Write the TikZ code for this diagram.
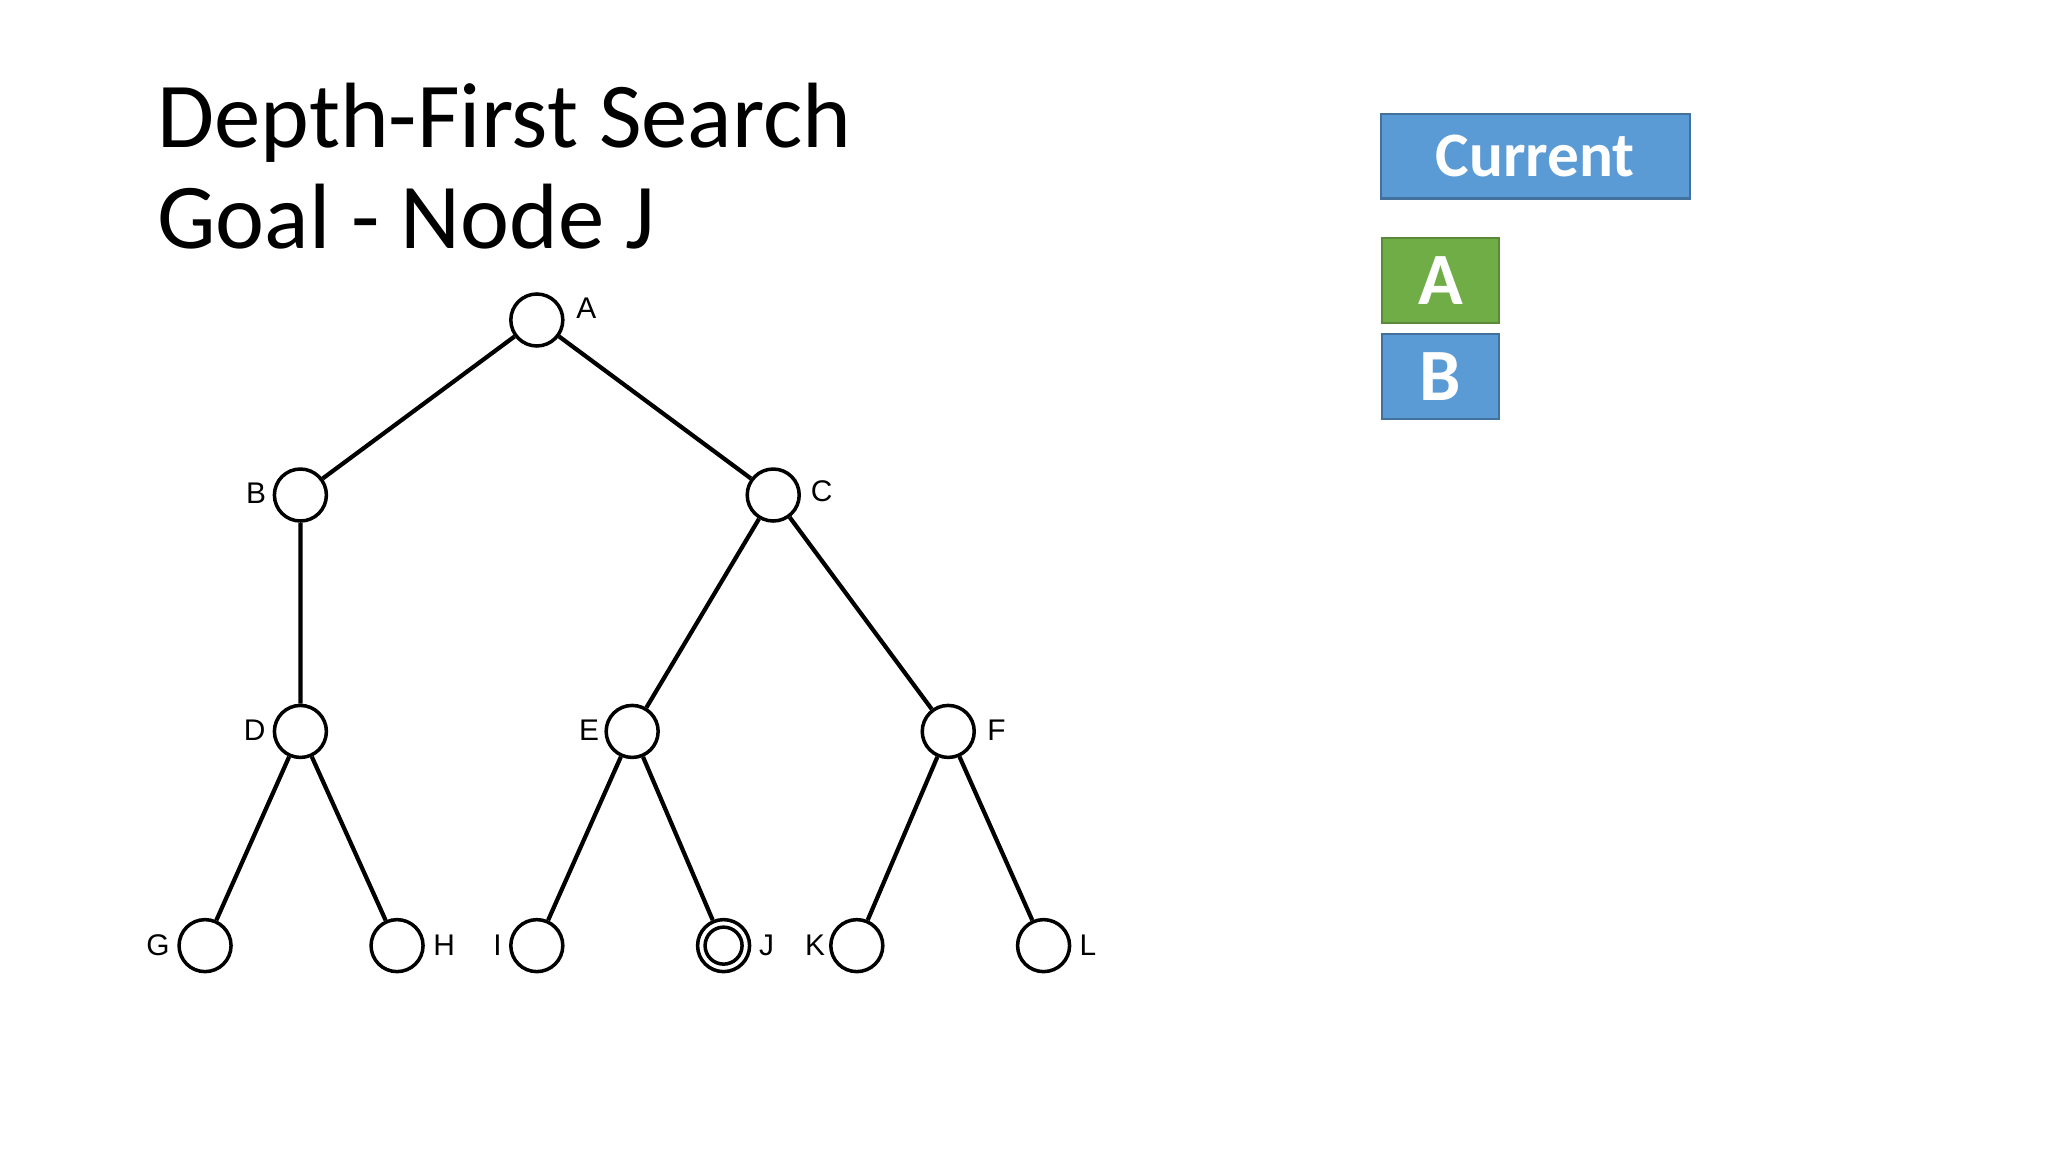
\documentclass[tikz,border=0pt]{standalone}
\usepackage{fontspec}
\setmainfont{Carlito}
\newfontfamily\lab{Liberation Sans}
\definecolor{bbl}{HTML}{5B9BD5}
\definecolor{bgr}{HTML}{70AD47}
\definecolor{bdr}{HTML}{41719C}
\begin{document}
\begin{tikzpicture}[x=0.013061cm,y=-0.013061cm,
  vert/.style={circle,draw,line width=1pt,inner sep=0pt,minimum size=0.52cm},
  lbl/.style={font=\lab\fontsize{8.5}{10}\selectfont,inner sep=0pt},
  edge/.style={line width=1.2pt},
  box/.style={draw=bdr,line width=0.6pt,text=white,font=\bfseries\fontsize{18}{21}\selectfont,inner sep=0pt}]
\useasboundingbox (0,0) rectangle (1568,882);
\node[anchor=base west,font=\fontsize{26.4}{31}\selectfont,inner sep=0pt] (t1) at (120,113) {Depth-First Search};
\node[anchor=base west,font=\fontsize{26.4}{31}\selectfont,inner sep=0pt] (t2) at (120,190) {Goal - Node J};
\foreach \n/\x/\y in {A/411/245,B/230/379,C/592/379,D/230/560,E/484/560,F/726/560,G/157/724,H/304/724,I/411/724,J/554/724,K/656/724,L/799/724}
  \node[vert] (\n) at (\x,\y) {};
\node[circle,draw,line width=1pt,minimum size=0.37cm,inner sep=0pt] (Jin) at (J) {};
\foreach \n/\x/\y in {A/449/236,B/196/378,C/629/376,D/195/559,E/451/559,F/763/559,G/121/724,H/340/724,I/381/724,J/587/724,K/624/724,L/833/724}
  \node[lbl] (l\n) at (\x,\y) {\n};
\draw[edge] (A)--(B) (A)--(C) (B)--(D) (C)--(E) (C)--(F) (D)--(G) (D)--(H) (E)--(I) (E)--(J) (F)--(K) (F)--(L);
\node[box,fill=bbl,minimum width=3.095cm,minimum height=0.849cm] (cur) at (1175.5,119.5) {Current};
\node[box,fill=bgr,draw=bgr!80!black,minimum width=1.175cm,minimum height=0.849cm,font=\bfseries\fontsize{21}{24}\selectfont] (sa) at (1103,214.5) {A};
\node[box,fill=bbl,minimum width=1.175cm,minimum height=0.849cm,font=\bfseries\fontsize{21}{24}\selectfont] (sb) at (1103,288.5) {B};
\end{tikzpicture}
\end{document}
